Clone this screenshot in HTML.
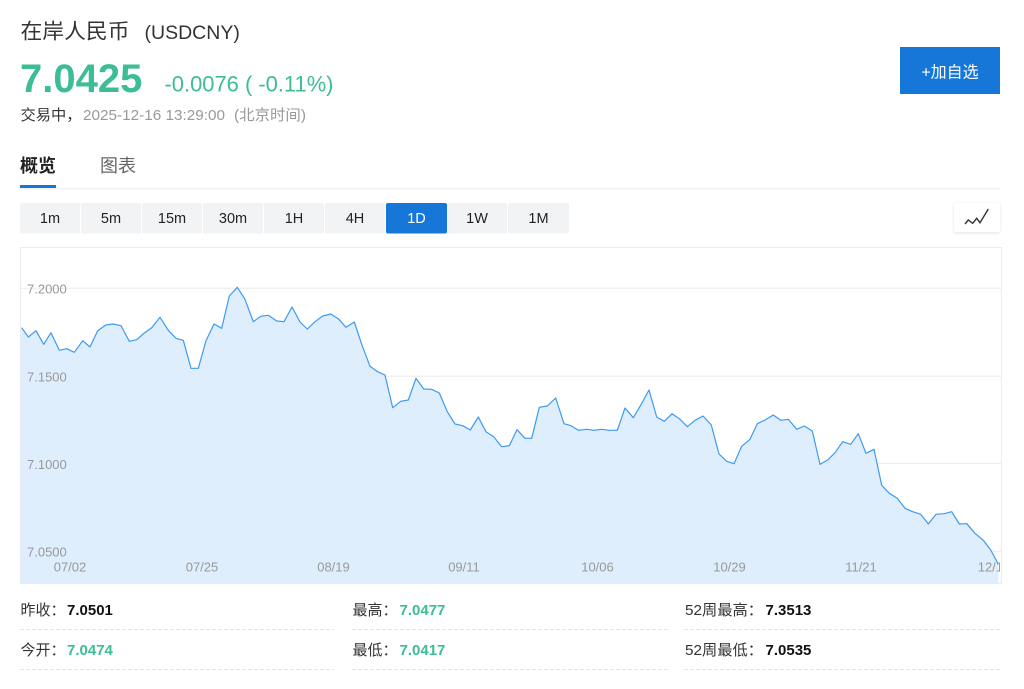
<!DOCTYPE html>
<html>
<head>
<meta charset="utf-8">
<style>
html,body{margin:0;padding:0;background:#fff;}
body{width:1024px;height:689px;position:relative;overflow:hidden;font-family:"Liberation Sans","Noto Sans CJK SC",sans-serif;}
svg{position:absolute;left:0;top:0;}
.iconbtn{position:absolute;left:954px;top:203px;width:46px;height:29px;background:#fff;border-radius:2px;box-shadow:0 1px 3px rgba(0,0,0,0.12);}
</style>
</head>
<body>
<div class="iconbtn"></div>
<svg width="1024" height="689" viewBox="0 0 1024 689" xmlns="http://www.w3.org/2000/svg" style="font-family:'Liberation Sans','Noto Sans CJK SC',sans-serif;">
  <!-- Header -->
  <text x="20.5" y="38.5" font-size="21" fill="#333" textLength="109" lengthAdjust="spacingAndGlyphs">在岸人民币</text>
  <text x="144.5" y="39" font-size="19.5" fill="#333">(USDCNY)</text>

  <text x="20" y="92" font-size="40" font-weight="bold" fill="#3cbd96">7.0425</text>
  <text x="164.5" y="91.7" font-size="22" fill="#3cbd96" textLength="169" lengthAdjust="spacingAndGlyphs">-0.0076 ( -0.11%)</text>

  <text x="20.5" y="120" font-size="15" fill="#333" textLength="61" lengthAdjust="spacingAndGlyphs">交易中，</text>
  <text x="83" y="120" font-size="15" fill="#999" textLength="142" lengthAdjust="spacingAndGlyphs">2025-12-16 13:29:00</text>
  <text x="234" y="120" font-size="15" fill="#999" textLength="72" lengthAdjust="spacingAndGlyphs">(北京时间)</text>

  <!-- Add button -->
  <rect x="900" y="47" width="100" height="47" fill="#1677d9"/>
  <text x="950" y="77.5" font-size="16" fill="#fff" text-anchor="middle">+加自选</text>

  <!-- Tabs -->
  <text x="20" y="172" font-size="18" font-weight="bold" fill="#222">概览</text>
  <text x="100" y="172" font-size="18" fill="#666">图表</text>
  <rect x="20" y="188" width="980" height="1.5" fill="#f0f1f3"/>
  <rect x="20" y="185" width="36" height="3" fill="#1677d9"/>

  <!-- Period buttons -->
  <g font-size="14.5" text-anchor="middle">
    <rect x="20" y="203" width="60" height="30.5" rx="2" fill="#f2f3f5"/>
    <text x="50" y="223" fill="#222">1m</text>
    <rect x="81" y="203" width="60" height="30.5" rx="2" fill="#f2f3f5"/>
    <text x="111" y="223" fill="#222">5m</text>
    <rect x="142" y="203" width="60" height="30.5" rx="2" fill="#f2f3f5"/>
    <text x="172" y="223" fill="#222">15m</text>
    <rect x="203" y="203" width="60" height="30.5" rx="2" fill="#f2f3f5"/>
    <text x="233" y="223" fill="#222">30m</text>
    <rect x="264" y="203" width="60" height="30.5" rx="2" fill="#f2f3f5"/>
    <text x="294" y="223" fill="#222">1H</text>
    <rect x="325" y="203" width="60" height="30.5" rx="2" fill="#f2f3f5"/>
    <text x="355" y="223" fill="#222">4H</text>
    <rect x="386" y="203" width="61" height="30.5" rx="2" fill="#1677d9"/>
    <text x="416.5" y="223" fill="#fff">1D</text>
    <rect x="447" y="203" width="60" height="30.5" rx="2" fill="#f2f3f5"/>
    <text x="477" y="223" fill="#222">1W</text>
    <rect x="508" y="203" width="61" height="30.5" rx="2" fill="#f2f3f5"/>
    <text x="538.5" y="223" fill="#222">1M</text>
  </g>

  <!-- chart icon -->
  <polyline points="965,224 968.3,220 972.7,223.3 976.7,218.3 980,222.7 988.3,209" fill="none" stroke="#333" stroke-width="1.4" stroke-linejoin="miter"/>

  <!-- Chart box -->
  <rect x="20.5" y="247.5" width="981" height="336" fill="#fff" stroke="#ebebeb" stroke-width="1"/>
  <g stroke="#ececec" stroke-width="1">
    <line x1="21" y1="288.3" x2="1001" y2="288.3"/>
    <line x1="21" y1="376.3" x2="1001" y2="376.3"/>
    <line x1="21" y1="463.5" x2="1001" y2="463.5"/>
    <line x1="21" y1="551.3" x2="1001" y2="551.3"/>
  </g>

  <polygon fill="#deeefd" points="20.7,583 20.7,327.7 21.7,327.7 28.3,337 36,330.7 43.7,344.3 51,332.7 59.3,350.3 66.7,348.7 74.3,352.3 82.7,340.7 90,347 97.7,330.7 105.7,325 113.3,324 121,325.7 129.3,341.3 136.7,339.7 144.3,333 151.7,327.7 160,317.3 168.3,330.3 176,338.3 183.3,340.3 191,368.3 198.3,368.3 206,340.7 214,324 221.7,328.3 229.3,296 237.3,287.3 245,299.3 253.3,321.7 260.7,316.3 268.3,315.3 276.7,321 284,321.7 292,307 300,322 307.3,329 315,321.7 322.7,316 330.7,314 338.3,318.7 346,327.3 354.3,322 361.7,344.3 370,366.3 377.7,371.7 385,375 392.7,407.7 400.7,401.3 408.3,400 416,378.3 423.7,389 431.7,389.3 439.3,393 447.3,411.7 455,424 462.7,425.7 470.3,430 478.3,417 486,431.7 493.7,436.7 501.7,446.7 509.3,445.7 517,429.7 525,438.3 531.7,438.3 539.3,407.3 547.3,406 555.7,398 564,423.7 571,425.7 578.3,430.3 586.7,429.3 594,430.3 601.7,429.3 609.3,430.3 617.3,430.3 625,408 633.3,417.7 641,404.7 649,390 656.7,417 664.3,421.3 672,413.7 680,419.3 687.3,426.7 695,420.3 703,416 711.3,425 719,454 726.7,461.3 734,463.7 741.7,446.3 750,439.3 757.3,423.7 765,420 773.3,415 780.7,420.3 788.3,419.3 796.7,429.3 804.3,426 812.3,431 820,464.3 827.7,460 835,452.7 842.7,441.7 850.7,444.3 858.3,433.7 866,453.3 874,449.3 881.7,485.3 889.3,493.3 897.3,498.3 905,508.3 912.7,511.7 920.7,514.3 928.3,524 936,514.3 944,513.7 951.7,511.7 959.3,524 966.7,523.7 975,533.3 983.3,540.3 990.7,550 998.3,564 998.3,583"/>
  <polyline fill="none" stroke="#3d9af2" stroke-width="1.2" stroke-linejoin="round" points="21.7,327.7 28.3,337 36,330.7 43.7,344.3 51,332.7 59.3,350.3 66.7,348.7 74.3,352.3 82.7,340.7 90,347 97.7,330.7 105.7,325 113.3,324 121,325.7 129.3,341.3 136.7,339.7 144.3,333 151.7,327.7 160,317.3 168.3,330.3 176,338.3 183.3,340.3 191,368.3 198.3,368.3 206,340.7 214,324 221.7,328.3 229.3,296 237.3,287.3 245,299.3 253.3,321.7 260.7,316.3 268.3,315.3 276.7,321 284,321.7 292,307 300,322 307.3,329 315,321.7 322.7,316 330.7,314 338.3,318.7 346,327.3 354.3,322 361.7,344.3 370,366.3 377.7,371.7 385,375 392.7,407.7 400.7,401.3 408.3,400 416,378.3 423.7,389 431.7,389.3 439.3,393 447.3,411.7 455,424 462.7,425.7 470.3,430 478.3,417 486,431.7 493.7,436.7 501.7,446.7 509.3,445.7 517,429.7 525,438.3 531.7,438.3 539.3,407.3 547.3,406 555.7,398 564,423.7 571,425.7 578.3,430.3 586.7,429.3 594,430.3 601.7,429.3 609.3,430.3 617.3,430.3 625,408 633.3,417.7 641,404.7 649,390 656.7,417 664.3,421.3 672,413.7 680,419.3 687.3,426.7 695,420.3 703,416 711.3,425 719,454 726.7,461.3 734,463.7 741.7,446.3 750,439.3 757.3,423.7 765,420 773.3,415 780.7,420.3 788.3,419.3 796.7,429.3 804.3,426 812.3,431 820,464.3 827.7,460 835,452.7 842.7,441.7 850.7,444.3 858.3,433.7 866,453.3 874,449.3 881.7,485.3 889.3,493.3 897.3,498.3 905,508.3 912.7,511.7 920.7,514.3 928.3,524 936,514.3 944,513.7 951.7,511.7 959.3,524 966.7,523.7 975,533.3 983.3,540.3 990.7,550 998.3,564"/>

  <!-- Y labels -->
  <g font-size="13" fill="#999">
    <text x="27" y="293.5">7.2000</text>
    <text x="27" y="381.6">7.1500</text>
    <text x="27" y="468.8">7.1000</text>
    <text x="27" y="556.6">7.0500</text>
  </g>
  <!-- X labels -->
  <defs><clipPath id="cc"><rect x="20" y="540" width="980" height="44"/></clipPath></defs>
  <g font-size="13" fill="#999" text-anchor="middle" clip-path="url(#cc)">
    <text x="70" y="571.5">07/02</text>
    <text x="202" y="571.5">07/25</text>
    <text x="333.5" y="571.5">08/19</text>
    <text x="464" y="571.5">09/11</text>
    <text x="597.5" y="571.5">10/06</text>
    <text x="729.5" y="571.5">10/29</text>
    <text x="861" y="571.5">11/21</text>
    <text x="994" y="571.5">12/16</text>
  </g>

  <!-- Stats -->
  <g font-size="15">
    <text x="20.5" y="615" fill="#333">昨收：</text>
    <text x="67" y="615" fill="#111" font-weight="bold">7.0501</text>
    <text x="352.5" y="615" fill="#333">最高：</text>
    <text x="399.5" y="615" fill="#3cbd96" font-weight="bold">7.0477</text>
    <text x="685" y="615" fill="#333" textLength="78" lengthAdjust="spacingAndGlyphs">52周最高：</text>
    <text x="765.5" y="615" fill="#111" font-weight="bold">7.3513</text>

    <text x="20.5" y="655" fill="#333">今开：</text>
    <text x="67" y="655" fill="#3cbd96" font-weight="bold">7.0474</text>
    <text x="352.5" y="655" fill="#333">最低：</text>
    <text x="399.5" y="655" fill="#3cbd96" font-weight="bold">7.0417</text>
    <text x="685" y="655" fill="#333" textLength="78" lengthAdjust="spacingAndGlyphs">52周最低：</text>
    <text x="765.5" y="655" fill="#111" font-weight="bold">7.0535</text>
  </g>
  <g stroke="#e4e4e4" stroke-width="1" stroke-dasharray="4 2">
    <line x1="20" y1="629.5" x2="334" y2="629.5"/>
    <line x1="352" y1="629.5" x2="668" y2="629.5"/>
    <line x1="684" y1="629.5" x2="1000" y2="629.5"/>
    <line x1="20" y1="669.5" x2="334" y2="669.5"/>
    <line x1="352" y1="669.5" x2="668" y2="669.5"/>
    <line x1="684" y1="669.5" x2="1000" y2="669.5"/>
  </g>
</svg>
</body>
</html>
